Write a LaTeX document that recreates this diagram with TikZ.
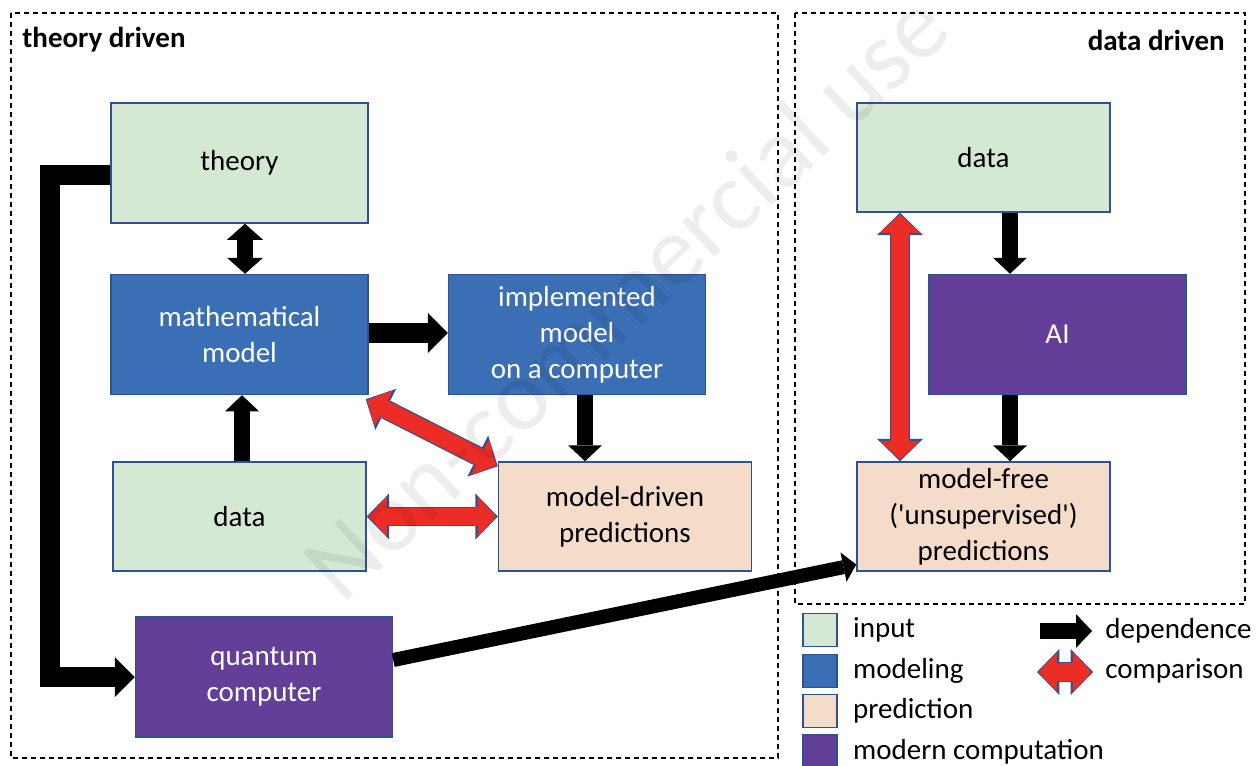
\documentclass[tikz,border=0pt]{standalone}
\usepackage{fontspec}
\setmainfont{Carlito}
\usetikzlibrary{arrows.meta, positioning, calc}

\definecolor{inputgreen}{HTML}{D5E8D4}
\definecolor{modelblue}{HTML}{3A6FB5}
\definecolor{predpeach}{HTML}{F5DCCA}
\definecolor{modpurple}{HTML}{633F99}
\definecolor{boxedge}{HTML}{2F528F}
\definecolor{cmpred}{HTML}{EC2D26}

\tikzset{
    every node/.style={font=\fontsize{14.5}{18}\selectfont},
    box/.style={draw=boxedge, line width=0.75pt, align=center, inner sep=0pt},
    bigbox/.style={box, minimum width=128.5pt, minimum height=60pt},
    smallbox/.style={box, minimum width=126.5pt, minimum height=54.5pt},
    input/.style={fill=inputgreen},
    modeling/.style={fill=modelblue, text=white},
    prediction/.style={fill=predpeach},
    moderncomp/.style={fill=modpurple, text=white},
    lgsquare/.style={box, minimum width=17pt, minimum height=16.5pt},
    lgtext/.style={inner sep=0pt},
    framelabel/.style={inner sep=0pt, font=\fontsize{14.5}{18}\selectfont\bfseries},
    frame/.style={line width=0.75pt, dash pattern=on 2.6pt off 1.9pt},
    dep/.style={line width=8pt, -{Triangle[length=8pt, width=17pt, line width=0pt]}},
    dbldep/.style={line width=8pt, {Triangle[length=8pt, width=18pt, line width=0pt]}-{Triangle[length=8pt, width=18pt, line width=0pt]}},
    depbig/.style={line width=10pt, -{Triangle[length=10pt, width=20pt, line width=0pt]}},
    depthin/.style={line width=7pt, -{Triangle[length=6.5pt, width=15pt, line width=0pt]}},
    cmpedge/.style={draw=boxedge, line width=9.8pt, {Triangle[length=11.2pt, width=23pt, line width=0pt]}-{Triangle[length=11.2pt, width=23pt, line width=0pt]}},
    cmpfill/.style={draw=cmpred, line width=8.6pt, shorten >=0.8pt, shorten <=0.8pt, {Triangle[length=9.3pt, width=20pt, line width=0pt]}-{Triangle[length=9.3pt, width=20pt, line width=0pt]}},
}

% red comparison arrow with thin outline
\newcommand{\comparearrow}[2]{%
    \draw[cmpedge] #1 -- #2;
    \draw[cmpfill] #1 -- #2;}

\begin{document}
\begin{tikzpicture}[x=0.5pt, y=-0.5pt]
    \fill[white] (0,0) rectangle (1257,765);
    \useasboundingbox (0,0) rectangle (1257,765);

    % Frames
    \draw[frame] (11,13) rectangle (778,758);
    \draw[frame] (795,13) rectangle (1245,604);
    \node[framelabel, anchor=west] (theorylabel) at (22,40) {theory driven};
    \node[framelabel, anchor=east] (datalabel) at (1225,40) {data driven};

    % Theory driven boxes
    \node[bigbox, input] (theory) at (239.5,163) {theory};
    \node[bigbox, modeling] (mathmodel) at (239.5,334.5) {mathematical\\model};
    \node[bigbox, modeling] (implmodel) at (577,334.5) {implemented\\model\\on a computer};
    \node[smallbox, input] (dataL) at (239.5,516.5) {data};
    \node[smallbox, prediction] (mdpred) at (625,516.5) {model-driven\\predictions};
    \node[bigbox, moderncomp] (quantum) at (264,677) {quantum\\computer};

    % Data driven boxes
    \node[smallbox, input] (dataR) at (983.5,157.5) {data};
    \node[bigbox, moderncomp] (ai) at (1057.5,334.5) {AI};
    \node[smallbox, prediction] (mfpred) at (983.5,516.5) {model-free\\(\textquotesingle unsupervised\textquotesingle)\\predictions};

    % Dependence
    \draw[dbldep] ([xshift=2.75pt]theory.south) -- ([xshift=2.75pt]mathmodel.north);
    \draw[depbig] ([yshift=0.75pt]mathmodel.east) -- ([yshift=0.75pt]implmodel.west);
    \draw[dep] ([xshift=1.25pt]dataL.north) -- ([xshift=1.25pt]mathmodel.south);
    \draw[dep] ([xshift=4pt]implmodel.south) -- ([xshift=4pt]implmodel.south |- mdpred.north);
    \draw[dep] ([xshift=13.25pt]dataR.south) -- ([xshift=13.25pt]dataR.south |- ai.north);
    \draw[dep] ([xshift=-23.75pt]ai.south) -- ([xshift=-23.75pt]ai.south |- mfpred.north);
    \draw[depbig] ([yshift=-6pt]theory.west) -- ++(-30pt,0) |- (quantum.west);
    \draw[depthin] ([yshift=8.5pt]quantum.east) -- ([yshift=-24pt]mfpred.west);

    % Comparison
    \comparearrow{([shift={(-1.5pt,-2pt)}]mathmodel.south east)}{([yshift=-2.5pt]mdpred.north west)}
    \comparearrow{(dataL.east)}{(mdpred.west)}
    \comparearrow{([xshift=-41.75pt]dataR.south)}{([xshift=-41.75pt]dataR.south |- mfpred.north)}

    % Legend
    \node[lgsquare, input] (lginput) at (820,630) {};
    \node[lgsquare, modeling] (lgmodel) at (820,671) {};
    \node[lgsquare, prediction] (lgpred) at (820,711) {};
    \node[lgsquare, moderncomp] (lgmodern) at (820,751.5) {};
    \node[lgtext, right=7.5pt of lginput] (lginputtext) {input};
    \node[lgtext, right=7.5pt of lgmodel] (lgmodeltext) {modeling};
    \node[lgtext, right=7.5pt of lgpred] (lgpredtext) {prediction};
    \node[lgtext, right=7.5pt of lgmodern] (lgmoderntext) {modern computation};

    \node[lgtext, anchor=west] (lgdep) at (1105,631) {dependence};
    \coordinate (lgdepstart) at (1040,631);
    \draw[dep] (lgdepstart) -- ([xshift=-6.5pt]lgdep.west);
    \node[lgtext, anchor=west] (lgcmp) at (1105,671) {comparison};
    \coordinate (lgcmpstart) at (1037,672);
    \comparearrow{(lgcmpstart)}{([xshift=-6pt,yshift=-0.5pt]lgcmp.west)}

    % Watermark
    \node[rotate=43, text=black, text opacity=0.07, font=\fontsize{50}{60}\selectfont] (watermark) at (625,295) {Non-commercial use};
\end{tikzpicture}
\end{document}
